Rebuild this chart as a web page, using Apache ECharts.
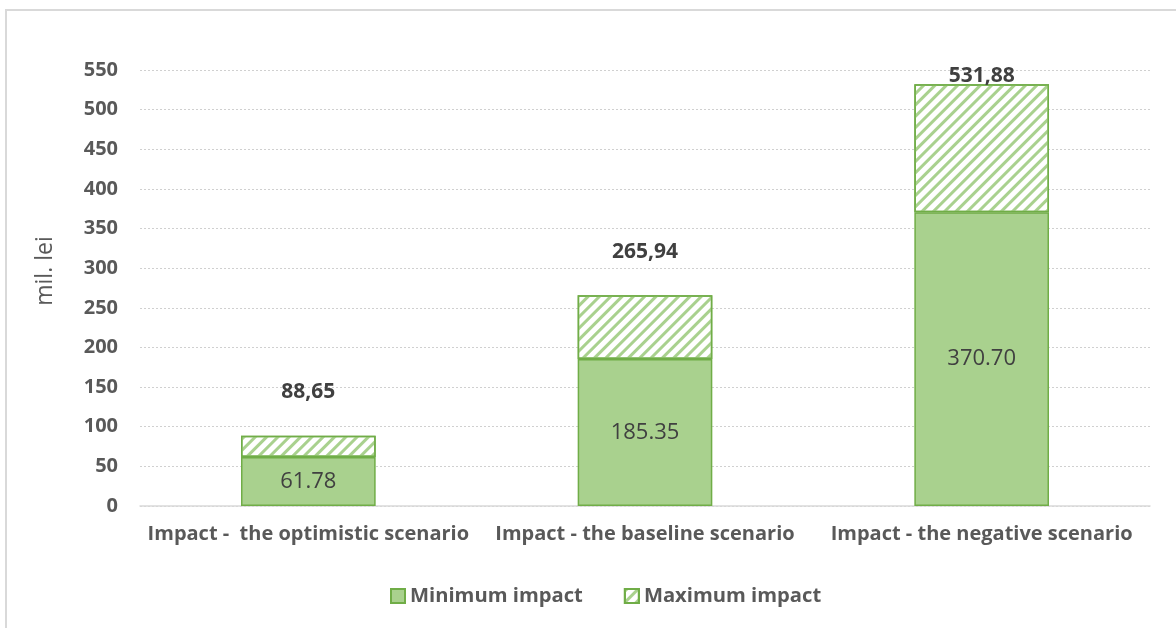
<!DOCTYPE html>
<html>
<head>
<meta charset="utf-8">
<script src="https://cdn.jsdelivr.net/npm/echarts@6/dist/echarts.min.js"></script>
<style>
    html, body { margin:0; padding:0; background:#fff; }
    #frame { position:absolute; left:5px; top:9px; width:1200px; height:640px; border:2px solid #d9d9d9; }
    #main { position:absolute; left:0; top:0; width:1176px; height:628px; }
</style>
</head>
<body>
<div id="frame"></div>
<div id="main"></div>
<script type="text/javascript">
    // scenario data, mil. lei
    var categories = ['Impact -  the optimistic scenario', 'Impact - the baseline scenario', 'Impact - the negative scenario'];
    var minImpact = [61.78, 185.35, 370.70];
    var maxImpact = [88.65, 265.94, 531.88];
    var totalLabels = ['88,65', '265,94', '531,88'];
    var minLabels = ['61.78', '185.35', '370.70'];

    // the hatched part is the gap between max and min
    var extra = [];
    for (var i = 0; i < maxImpact.length; i++) {
        extra.push(+(maxImpact[i] - minImpact[i]).toFixed(2));
    }
    var labelShift = [[0, -28], [0, -28], [0, 7]];

    var font = '"Open Sans", "Liberation Sans", sans-serif';
    var myChart = echarts.init(document.getElementById('main'));
    myChart.setOption({
        animation: false,
        textStyle: { fontFamily: font },
        grid: { left: 140, right: 26, top: 70, bottom: 122 },
        legend: {
            bottom: 17,
            left: 385,
            icon: 'rect',
            itemWidth: 14,
            itemHeight: 14,
            itemGap: 41,
            textStyle: { fontSize: 20.2, fontWeight: 'bold', color: '#595959', fontFamily: font },
            data: ['Minimum impact', 'Maximum impact']
        },
        xAxis: {
            type: 'category',
            data: categories,
            axisTick: { show: false },
            axisLine: { lineStyle: { color: '#d9d9d9', width: 1.5 } },
            axisLabel: { margin: 18, fontSize: 20, fontWeight: 'bold', color: '#595959', interval: 0 }
        },
        yAxis: {
            type: 'value',
            min: 0,
            max: 550,
            interval: 50,
            name: 'mil. lei',
            nameLocation: 'middle',
            nameGap: 83,
            nameTextStyle: { fontSize: 23, color: '#595959', padding: [0, 0, 0, 34] },
            axisLabel: { margin: 22, fontSize: 20, fontWeight: 'bold', color: '#595959' },
            splitLine: { lineStyle: { type: [2, 2], color: '#d0d0d0' } }
        },
        series: [
            {
                name: 'Minimum impact',
                type: 'bar',
                stack: 'impact',
                barWidth: '40%',
                data: minImpact,
                itemStyle: { color: '#a9d18e', borderColor: '#70ad47', borderWidth: 1.5 },
                label: {
                    show: true,
                    position: 'inside',
                    fontSize: 22,
                    color: '#404040',
                    formatter: function (p) { return minLabels[p.dataIndex]; }
                }
            },
            {
                name: 'Maximum impact',
                type: 'bar',
                stack: 'impact',
                data: extra.map(function (v, k) {
                    return { value: v, label: { offset: labelShift[k] } };
                }),
                itemStyle: {
                    color: '#ffffff',
                    borderColor: '#70ad47',
                    borderWidth: 1.5,
                    decal: {
                        symbol: 'rect',
                        symbolSize: 1,
                        color: '#a9d18e',
                        dashArrayX: [1, 0],
                        dashArrayY: [3, 5],
                        rotation: -Math.PI / 4
                    }
                },
                label: {
                    show: true,
                    position: 'top',
                    fontSize: 21,
                    fontWeight: 'bold',
                    color: '#404040',
                    formatter: function (p) { return totalLabels[p.dataIndex]; }
                }
            }
        ]
    });
</script>
</body>
</html>
